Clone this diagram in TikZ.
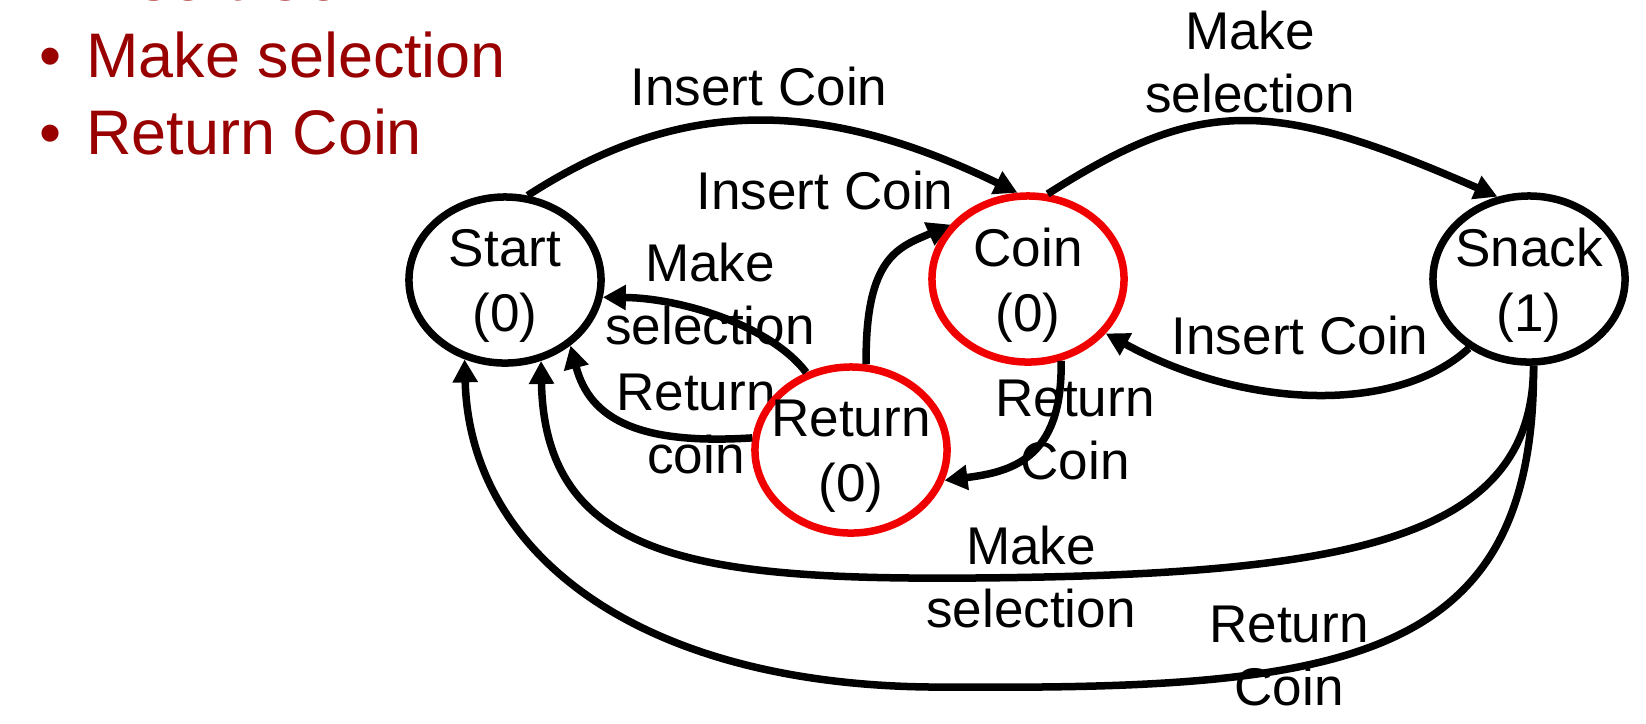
\documentclass[tikz,border=0pt]{standalone}
\usepackage{fontspec}
\setmainfont{Liberation Sans}
\usetikzlibrary{shapes.geometric,arrows.meta}
\definecolor{itemred}{RGB}{153,0,0}
\definecolor{statered}{RGB}{240,0,0}

\begin{document}
\begin{tikzpicture}[x=0.01cm,y=-0.01cm]
	\tikzset{>={Triangle[length=0.23cm,width=0.24cm]}}
	\tikzset{lbl/.style={align=center,inner sep=0pt,font=\fontsize{15.1pt}{17.9pt}\selectfont},
		vstate/.style={draw,ellipse,line width=0.075cm,minimum width=1.92cm,minimum height=1.66cm,
			inner sep=0pt,label={[lbl,font=\fontsize{15.1pt}{18.5pt}\selectfont,yshift=-0.06cm]center:#1}},
		busy/.style={vstate=#1,draw=statered},
		bulletitem/.style={anchor=base west,inner sep=0pt,text=itemred,font=\fontsize{17.9pt}{21pt}\selectfont},
		trans/.style={->,line width=0.075cm}}
	\useasboundingbox (0,0) rectangle (1646,723);
	% inputs
	\foreach \txt [count=\i from 0] in {Insert Coin,Make selection,Return Coin}
		\node[bulletitem] (item\i) at (39,{77*\i}) {\makebox[0.465cm][l]{\textbullet}\txt};
	% labels
	\node[lbl] (l1) at (759,87) {Insert Coin};
	\node[lbl] (l2) at (1250,62) {Make\\selection};
	\node[lbl] (l3) at (825,191) {Insert Coin};
	\node[lbl] (l4) at (710,294) {Make\\selection};
	\node[lbl] (l5) at (696,424) {Return\\coin};
	\node[lbl] (l6) at (1075,430) {Return\\Coin};
	\node[lbl] (l7) at (1300,335) {Insert Coin};
	\node[lbl] (l8) at (1031,577) {Make\\selection};
	\node[lbl] (l9) at (1289,656) {Return\\Coin};
	% states
	\node[vstate={Start\\(0)}] (start) at (505,280) {};
	\node[busy={Coin\\(0)}] (coin) at (1028,279) {};
	\node[vstate={Snack\\(1)}] (snack) at (1529,279) {};
	\node[busy={Return\\(0)}] (ret) at (851,450) {};
	\coordinate (selbottom) at (973,578);
	\coordinate (retbottom) at (951,687);
	% transitions
	\draw[trans] (start.75) .. controls (680,97) and (820,97) .. (coin.97);
	\draw[trans] (coin.77) .. controls (1200,97) and (1270,97) .. (snack.111);
	\draw[trans] (ret.80) .. controls (865,255) and (900,247) .. (coin.145);
	\draw[trans] (ret.120) .. controls (770,325) and (680,298) .. (start.-10);
	\draw[trans] (ret.173) .. controls (640,445) and (590,420) .. (start.-45);
	\draw[trans] (coin.-68) .. controls (1063,460) and (1010,472) .. (ret.-18);
	\draw[trans] (snack.-131) .. controls (1400,412) and (1250,412) .. (coin.-35);
	\draw[trans] (snack.-87) .. controls (1533,540) and (1350,575) .. (selbottom)
		.. controls (700,580) and (545,560) .. (start.-66);
	\draw[trans] (snack.-87) .. controls (1535,660) and (1350,690) .. (retbottom)
		.. controls (650,690) and (470,560) .. (start.-117);
\end{tikzpicture}
\end{document}
